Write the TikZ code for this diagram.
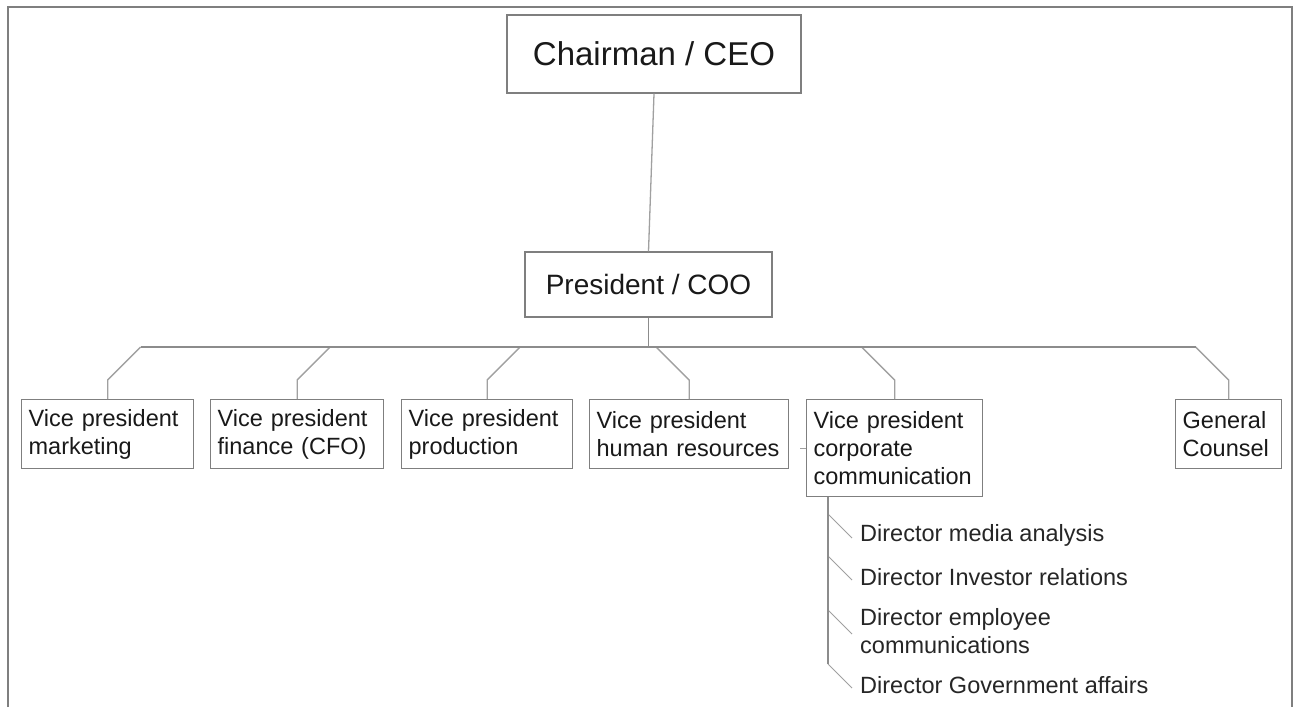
\documentclass[tikz,border=0pt]{standalone}
\usepackage{fontspec}
\setmainfont{Liberation Sans}
\definecolor{boxgray}{HTML}{7F7F7F}
\definecolor{linegray}{HTML}{A0A0A0}
\definecolor{busgray}{HTML}{8C8C8C}

\begin{document}
\begin{tikzpicture}[x=1pt,y=-1pt,
        head/.style={draw=boxgray, line width=1.3pt, text=black!90},
        post/.style={draw=boxgray, line width=1.3pt, anchor=north west, align=left,
            inner xsep=7pt, inner ysep=0pt, text=black!90,
            font=\fontsize{23.5}{28}\selectfont},
        director/.style={anchor=west, inner sep=0pt, align=left, text=black!85,
            font=\fontsize{23.5}{28}\selectfont},
        link/.style={draw=linegray, line width=1.3pt},
        bus/.style={draw=busgray, line width=1.6pt}]
        \useasboundingbox (0,0) rectangle (1298,707);
        \draw[boxgray, line width=1.3pt] (8,707) -- (8,7) -- (1292,7) -- (1292,707);
        \node[head, minimum width=294pt, minimum height=78pt, font=\fontsize{33}{40}\selectfont] (ceo) at (654,54) {Chairman / CEO};
        \node[head, minimum width=247pt, minimum height=65pt, font=\fontsize{28}{34}\selectfont] (coo) at (648.5,284.5) {President / COO};
        \node[post, text width=158pt, minimum height=69pt] (mkt) at (21,399) {Vice president\\marketing};
        \node[post, text width=159pt, minimum height=69pt] (fin) at (210,399) {Vice president\\finance (CFO)};
        \node[post, text width=157pt, minimum height=69pt] (prod) at (401,399) {Vice president\\production};
        \node[post, text width=185pt, minimum height=69pt] (hr) at (589,399) {Vice president\\human resources};
        \node[post, text width=162pt, minimum height=97pt] (cc) at (806,399) {Vice president\\corporate\\communication};
        \node[post, text width=92pt, minimum height=69pt] (gc) at (1175,399) {General\\Counsel};
        \node[director] (d1) at (860,535) {Director media analysis};
        \node[director] (d2) at (860,577) {Director Investor relations};
        \node[director] (d3) at (860,631) {Director employee\\communications};
        \node[director] (d4) at (860,685) {Director Government affairs};
        \draw[link] (ceo.south) -- (coo.north);
        \foreach \n/\s in {mkt/1,fin/1,prod/1,hr/-1,cc/-1,gc/-1}
        {
            \draw[link] (\n.north) -- ++(0,-19) -- ++(33*\s,-33) coordinate (bus-\n);
        }
        \draw[bus] (bus-mkt) -- (bus-gc);
        \draw[bus] (coo.south) -- (coo.south |- bus-mkt);
        \draw[link] (cc.west) -- ++(-6,0);
        \foreach \d in {d1,d2,d3,d4}
        {
            \draw[link, line width=0.9pt] (\d.west) ++(-8,3) -- ++(-24,-24) coordinate (to-\d);
        }
        \draw[bus] ([xshift=22pt]cc.south west) -- (to-d4);
    \end{tikzpicture}
\end{document}
